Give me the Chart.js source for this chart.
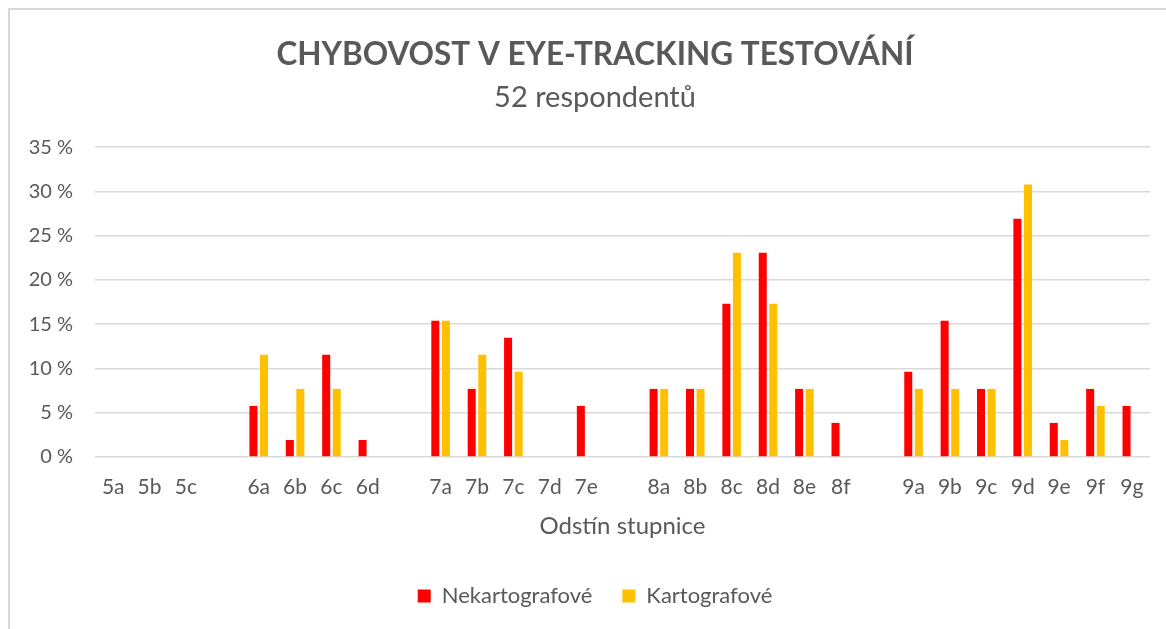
<!DOCTYPE html>
<html>
<head>
<meta charset="utf-8">
<script src="https://cdn.jsdelivr.net/npm/chart.js@4.4.1/dist/chart.umd.min.js"></script>
<style>
  html, body { margin: 0; padding: 0; background: #fff; overflow: hidden; }
  #wrap { position: relative; width: 1166px; height: 629px; overflow: hidden; }
  #frame { position: absolute; left: 8px; top: 8px; width: 1200px; height: 700px; border: 2px solid #d9d9d9; box-sizing: border-box; }
  canvas { position: absolute; left: 0; top: 0; }
</style>
</head>
<body>
<div id="wrap">
  <div id="frame"></div>
  <canvas id="c" width="1190" height="629"></canvas>
</div>
<script>
const categories = ['5a','5b','5c','', '6a','6b','6c','6d','', '7a','7b','7c','7d','7e','', '8a','8b','8c','8d','8e','8f','', '9a','9b','9c','9d','9e','9f','9g'];
const nekartografove = [0,0,0,null, 5.77,1.92,11.54,1.92,null, 15.38,7.69,13.46,0,5.77,null, 7.69,7.69,17.31,23.08,7.69,3.85,null, 9.62,15.38,7.69,26.92,3.85,7.69,5.77];
const kartografove   = [0,0,0,null, 11.54,7.69,7.69,0,null, 15.38,11.54,9.62,0,0,null, 7.69,7.69,23.08,17.31,7.69,0,null, 7.69,7.69,7.69,30.77,1.92,5.77,0];
const yTicks = [0,5,10,15,20,25,30,35];

const FONT = 'Lato, "Open Sans", sans-serif';
const TXT = '#595959';

new Chart(document.getElementById('c'), {
  type: 'bar',
  data: {
    labels: categories,
    datasets: [
      { label: 'Nekartografové', data: nekartografove, backgroundColor: '#FF0000', borderWidth: 0,
        categoryPercentage: 0.58, barPercentage: 0.76 },
      { label: 'Kartografové', data: kartografove, backgroundColor: '#FFC000', borderWidth: 0,
        categoryPercentage: 0.58, barPercentage: 0.76 }
    ]
  },
  options: {
    responsive: false,
    animation: false,
    layout: { padding: { left: 0, right: 0, top: 0, bottom: 12 } },
    plugins: {
      title: {
        display: true, text: 'CHYBOVOST V EYE-TRACKING TESTOVÁNÍ', color: TXT,
        font: { family: FONT, size: 31.5, weight: 'bold' }, padding: { top: 35.5, bottom: 0 }
      },
      subtitle: {
        display: true, text: '52 respondentů', color: TXT,
        font: { family: FONT, size: 29, weight: 'normal' }, padding: { top: 7, bottom: 32 }
      },
      legend: {
        position: 'bottom',
        labels: { color: TXT, font: { family: FONT, size: 22 }, boxWidth: 13, boxHeight: 13, padding: 30 }
      },
      tooltip: { enabled: false }
    },
    scales: {
      y: {
        min: 0, max: 35,
        afterBuildTicks: (s) => { s.ticks = yTicks.map(v => ({ value: v })); },
        ticks: { color: TXT, font: { family: FONT, size: 20 }, padding: 22, callback: (v) => v + ' %' },
        grid: { color: '#d9d9d9', lineWidth: 1.5, drawTicks: false },
        border: { display: false },
        afterFit: (s) => { s.width = 95; }
      },
      yRight: {
        position: 'right', min: 0, max: 35,
        ticks: { display: false },
        grid: { display: false, drawTicks: false },
        border: { display: false },
        afterFit: (s) => { s.width = 40; }
      },
      x: {
        ticks: { color: TXT, font: { family: FONT, size: 21 }, padding: 18, maxRotation: 0, autoSkip: false },
        grid: { display: false, drawTicks: false },
        border: { display: false },
        title: { display: true, text: 'Odstín stupnice', color: TXT, font: { family: FONT, size: 24 }, padding: { top: 0, bottom: 14 } },
        afterFit: (s) => { s.height = 98; }
      }
    }
  }
});
</script>
</body>
</html>
